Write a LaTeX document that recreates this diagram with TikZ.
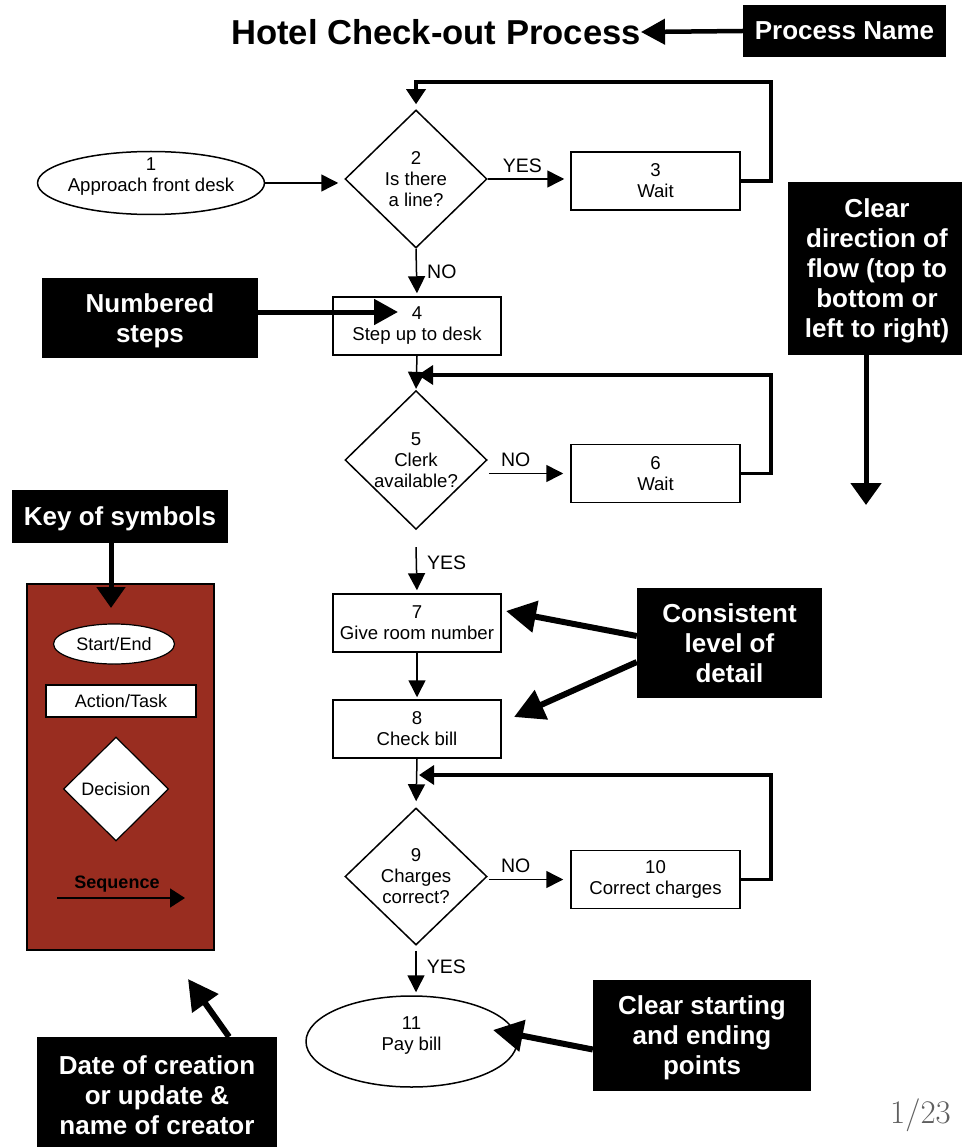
\documentclass[tikz,border=0pt]{standalone}
\usepackage{fontspec}
\setsansfont{Liberation Sans}
\usetikzlibrary{shapes.geometric,arrows.meta}
\definecolor{keyred}{RGB}{153,45,32}
\definecolor{pagegray}{RGB}{95,95,95}
% two centred lines, lifted a little inside a terminal
\newcommand{\liftedlines}[2]{\raisebox{6pt}[\height][\depth]{\begin{tabular}{@{}c@{}}#1\\#2\end{tabular}}}
\begin{document}
\begin{tikzpicture}[x=1pt,y=-1pt,
  every node/.style={font=\sffamily\fontsize{18.6}{21}\selectfont},
  stepbox/.style={draw, line width=1.5pt, minimum width=168pt, minimum height=58pt,
    inner sep=0pt, align=center, fill=white},
  decision/.style={diamond, draw, line width=1.5pt, minimum width=142pt,
    minimum height=138pt, inner sep=0pt, align=center, fill=white},
  terminal/.style={ellipse, draw, line width=1.5pt, inner sep=0pt, align=center, fill=white},
  callout/.style={fill=black, text=white, inner sep=0pt, align=center, text depth=0pt,
    font=\sffamily\bfseries\fontsize{26}{30}\selectfont},
  flow/.style={line width=1.5pt, -{Triangle[length=17pt,width=17pt]}},
  loopback/.style={line width=3.5pt, line join=miter, -{Triangle[length=15pt,width=19pt]}},
  pointer/.style={line width=6pt, -{Triangle[length=30pt,width=31pt]}},
  pointersm/.style={line width=4.5pt, -{Triangle[length=24pt,width=25pt]}},
  yn/.style={font=\sffamily\fontsize{19.5}{22}\selectfont, inner sep=3pt},
  ynright/.style={yn, right, xshift=7pt},
  ynabove/.style={yn, above, yshift=3pt}]
\useasboundingbox (0,0) rectangle (961,1147);

% ---- title ----
\node[anchor=east, inner sep=0pt, font=\sffamily\bfseries\fontsize{34.6}{40}\selectfont]
  (title) at (641,32) {Hotel Check-out Process};

% ---- process steps ----
\node[terminal, inner xsep=-3pt, minimum width=222pt, minimum height=63pt] (e1) at (151,183)
  {\liftedlines{1}{Approach front desk}};
\node[decision] (d2) at (416,179) {2\\Is there\\a line?};
\node[stepbox, minimum width=169pt] (b3) at (655.5,181) {3\\Wait};
\node[stepbox] (b4) at (417,326) {4\\Step up to desk};
\node[decision, minimum height=135pt] (d5) at (416,460) {5\\Clerk\\available?};
\node[stepbox, minimum width=169pt] (b6) at (655.5,473.5) {6\\Wait};
\node[stepbox] (b7) at (417,623) {7\\Give room number};
\node[stepbox] (b8) at (417,729) {8\\Check bill};
\node[decision, minimum height=137pt] (d9) at (416,876.5) {9\\Charges\\correct?};
\node[stepbox, minimum width=169pt] (b10) at (655.5,879.5) {10\\Correct charges};
\node[terminal, minimum width=211pt, minimum height=91pt] (e11) at (411.5,1041.5)
  {\liftedlines{11}{Pay bill}};

% ---- sequence arrows ----
\draw[flow, shorten >=6pt] (e1.east) -- (e1.east -| d2.west);
\draw[flow, shorten >=6pt] (d2.east) -- (d2.east -| b3.west)
  node[ynabove, pos=0.42] (yes2) {YES};
\draw[flow, shorten >=3pt] (d2.south) -- (b4.north)
  node[ynright, pos=0.48] (no2) {NO};
\draw[flow, shorten >=1pt] (b4.south) -- (d5.north);
\draw[flow, shorten >=7pt] ([xshift=1pt]d5.east |- b6.west) -- (b6.west)
  node[ynabove, pos=0.33] (no5) {NO};
\draw[flow, shorten >=3pt] ([yshift=-17pt]d5.south) -- (b7.north)
  node[ynright, pos=0.35] (yes5) {YES};
\draw[flow, shorten >=2pt] (b7.south) -- (b8.north);
\draw[flow, shorten >=6pt] (b8.south) -- (d9.north);
\draw[flow, shorten >=7pt] ([xshift=1pt]d9.east |- b10.west) -- (b10.west)
  node[ynabove, pos=0.33] (no9) {NO};
\draw[flow, shorten >=3pt] ([yshift=-5pt]d9.south) -- (d9.south |- e11.north)
  node[ynright, pos=0.35] (yes9) {YES};

% ---- loop-back connectors ----
\coordinate (top2) at (416,82);
\coordinate (join5) at (418,375);
\coordinate (join9) at (419,775);
\draw[loopback, shorten >=5pt] (b3.east) -- ++(30,0) |- (top2) -- (d2.north);
\draw[loopback] (b6.east) -- ++(30,0) |- (join5);
\draw[loopback] (b10.east) -- ++(30,0) |- (join9);

% ---- key of symbols ----
\node[draw, line width=1.5pt, fill=keyred, minimum width=187pt, minimum height=366pt,
  inner sep=0pt] (keypanel) at (120.5,767) {};
\node[terminal, line width=1.2pt, minimum width=121pt, minimum height=40pt,
  font=\sffamily\fontsize{18}{21}\selectfont] (kterm) at (114,644) {Start/End};
\node[draw, fill=white, line width=1.2pt, minimum width=150pt, minimum height=32pt,
  inner sep=0pt, font=\sffamily\fontsize{18}{21}\selectfont] (kstep) at (121,701) {Action/Task};
\node[diamond, draw, fill=white, line width=1.2pt, minimum width=105pt, minimum height=104pt,
  inner sep=0pt, font=\sffamily\fontsize{18}{21}\selectfont] (kdec) at (116,789) {Decision};
\node[font=\sffamily\bfseries\fontsize{18}{21}\selectfont, inner sep=0pt] (kseq) at (117,884) {Sequence};
\coordinate (kseqa) at (57,898);
\coordinate (kseqb) at (185,898);
\draw[line width=1.5pt, -{Triangle[length=15pt,width=19pt]}] (kseqa) -- (kseqb);

% ---- annotation callouts ----
\node[callout, minimum width=203pt, minimum height=52pt] (pn) at (844.5,31) {Process Name};
\node[callout, minimum width=216pt, minimum height=80pt] (ns) at (150,318) {Numbered\\steps};
\node[callout, minimum width=178pt, minimum height=173pt] (cd) at (877,268.5)
  {Clear\\direction of\\flow (top to\\bottom or\\left to right)};
\node[callout, minimum width=216pt, minimum height=53pt] (ks) at (120,516.5) {Key of symbols};
\node[callout, minimum width=185pt, minimum height=110pt] (cl) at (729.5,643) {Consistent\\level of\\detail};
\node[callout, minimum width=218pt, minimum height=111pt] (cs) at (702,1035.5) {Clear starting\\and ending\\points};
\node[callout, minimum width=240pt, minimum height=116pt] (dc) at (157,1095)
  {Date of creation\\or update \&\\name of creator};

\coordinate (tip4) at (398,312);
\coordinate (flowtip) at (866,505);
\coordinate (keytip) at (111,608);
\coordinate (tip7) at (506,611);
\coordinate (tip8) at (514,717);
\coordinate (tip11) at (493,1030);
\coordinate (tipdate) at (188,979);

\draw[pointersm] (pn.west) -- (title.east);
\draw[pointersm, line width=5pt] (ns.east |- tip4) -- (tip4);
\draw[pointersm, line width=5pt, -{Triangle[length=22pt,width=30pt]}] (flowtip |- cd.south) -- (flowtip);
\draw[pointersm, line width=5pt, -{Triangle[length=21pt,width=28pt]}] (keytip |- ks.south) -- (keytip);
\draw[pointer] ([yshift=7pt]cl.west) -- (tip7);
\draw[pointer] ([yshift=-19pt]cl.west) -- (tip8);
\draw[pointer] ([yshift=-14pt]cs.west) -- (tip11);
\draw[pointer] ([xshift=72pt]dc.north) -- (tipdate);

% ---- page number ----
\node[anchor=base west, inner sep=0pt, text=pagegray,
  font=\rmfamily\fontsize{33}{33}\selectfont] (pagenum) at (890,1123) {1/23};
\end{tikzpicture}
\end{document}
